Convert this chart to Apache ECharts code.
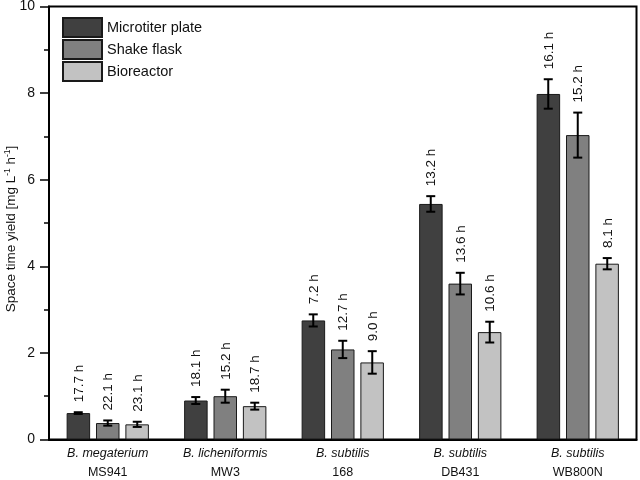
<!DOCTYPE html>
<html>
<head>
<meta charset="utf-8">
<script src="https://cdn.jsdelivr.net/npm/echarts@6/dist/echarts.min.js"></script>
<style>html,body{margin:0;padding:0;background:#fff}#c{width:640px;height:480px}</style>
</head>
<body>
<div id="c"></div>
<script>
const species = ['B. megaterium', 'B. licheniformis', 'B. subtilis', 'B. subtilis', 'B. subtilis'];
const strains = ['MS941', 'MW3', '168', 'DB431', 'WB800N'];
const seriesNames = ['Microtiter plate', 'Shake flask', 'Bioreactor'];
const microtiter = [0.61, 0.90, 2.75, 5.44, 7.98];
const microtiterErr = [0.02, 0.08, 0.14, 0.18, 0.34];
const shakeFlask = [0.38, 1.00, 2.08, 3.60, 7.03];
const shakeFlaskErr = [0.06, 0.15, 0.20, 0.25, 0.52];
const bioreactor = [0.35, 0.77, 1.78, 2.48, 4.06];
const bioreactorErr = [0.06, 0.08, 0.26, 0.24, 0.13];
const microtiterTime = ['17.7 h', '18.1 h', '7.2 h', '13.2 h', '16.1 h'];
const shakeFlaskTime = ['22.1 h', '15.2 h', '12.7 h', '13.6 h', '15.2 h'];
const bioreactorTime = ['23.1 h', '18.7 h', '9.0 h', '10.6 h', '8.1 h'];
const yTicks = [0, 2, 4, 6, 8, 10];

const values = [microtiter, shakeFlask, bioreactor];
const errs = [microtiterErr, shakeFlaskErr, bioreactorErr];
const times = [microtiterTime, shakeFlaskTime, bioreactorTime];
const colors = ['#404040', '#808080', '#c2c2c2'];
const FONT = '"Liberation Sans", Arial, sans-serif';
const BAR_W = 23.5, BAR_STEP = 29.5;

const chart = echarts.init(document.getElementById('c'));
const series = [];
values.forEach((vals, s) => {
  series.push({
    name: seriesNames[s], type: 'bar', data: vals,
    barWidth: BAR_W, barGap: '25%',
    itemStyle: { color: colors[s], borderColor: '#1a1a1a', borderWidth: 1 },
    z: 2
  });
});
values.forEach((vals, s) => {
  series.push({
    type: 'custom', z: 5, silent: true,
    data: vals.map((v, i) => [i, v, errs[s][i]]),
    renderItem: function (params, api) {
      const i = api.value(0), v = api.value(1), e = api.value(2);
      const hi = api.coord([i, v + e]);
      const lo = api.coord([i, v - e]);
      const x = hi[0] + (s - 1) * BAR_STEP;
      const cap = 4.5;
      const st = { stroke: '#000', lineWidth: 2 };
      return {
        type: 'group',
        children: [
          { type: 'line', shape: { x1: x, y1: hi[1], x2: x, y2: lo[1] }, style: st },
          { type: 'line', shape: { x1: x - cap, y1: hi[1], x2: x + cap, y2: hi[1] }, style: st },
          { type: 'line', shape: { x1: x - cap, y1: lo[1], x2: x + cap, y2: lo[1] }, style: st },
          { type: 'text', x: x + 1, y: hi[1] - 10, rotation: Math.PI / 2,
            style: { text: times[s][params.dataIndex], fill: '#111', font: '13.5px ' + FONT,
                     align: 'left', verticalAlign: 'middle' } }
        ]
      };
    }
  });
});

chart.setOption({
  animation: false,
  textStyle: { fontFamily: FONT },
  grid: { left: 49, right: 3.5, top: 6.5, bottom: 40.5, show: true, borderColor: '#000', borderWidth: 2,
          outerBoundsMode: 'none', containLabel: false },
  legend: {
    data: seriesNames, orient: 'vertical', left: 57, top: 12,
    itemWidth: 39, itemHeight: 19, itemGap: 1, icon: 'rect',
    textStyle: { fontSize: 14.5, color: '#111', fontFamily: FONT }
  },
  xAxis: {
    type: 'category', data: species.map((sp, i) => sp + '|' + strains[i]),
    axisLine: { lineStyle: { color: '#000', width: 2 } },
    axisTick: { show: false },
    axisLabel: {
      margin: 5, interval: 0,
      formatter: function (v) { const p = v.split('|'); return '{i|' + p[0] + '}\n{n|' + p[1] + '}'; },
      rich: {
        i: { fontStyle: 'italic', fontSize: 12.5, lineHeight: 19, color: '#111', fontFamily: FONT },
        n: { fontSize: 12.5, lineHeight: 19, color: '#111', fontFamily: FONT }
      }
    }
  },
  yAxis: {
    type: 'value', min: yTicks[0], max: yTicks[yTicks.length - 1], interval: 2,
    name: '{a|Space time yield [mg L}{s|-1}{a| h}{s|-1}{a|]}',
    nameLocation: 'middle', nameGap: 30, nameMoveOverlap: false,
    nameTextStyle: {
      padding: [0, 12, 0, 0],
      rich: {
        a: { fontSize: 13.5, color: '#111', fontFamily: FONT, lineHeight: 16 },
        s: { fontSize: 8.5, color: '#111', fontFamily: FONT, verticalAlign: 'top', lineHeight: 16, padding: [0, 0, 6, 0] }
      }
    },
    axisLine: { show: true, lineStyle: { color: '#000', width: 2 } },
    axisTick: { show: true, inside: false, length: 9, lineStyle: { color: '#000', width: 1.5 } },
    minorTick: { show: true, splitNumber: 2, length: 5, lineStyle: { color: '#000', width: 1.5 } },
    splitLine: { show: false },
    axisLabel: { fontSize: 14, color: '#111', margin: 14 }
  },
  series: series
});
</script>
</body>
</html>
